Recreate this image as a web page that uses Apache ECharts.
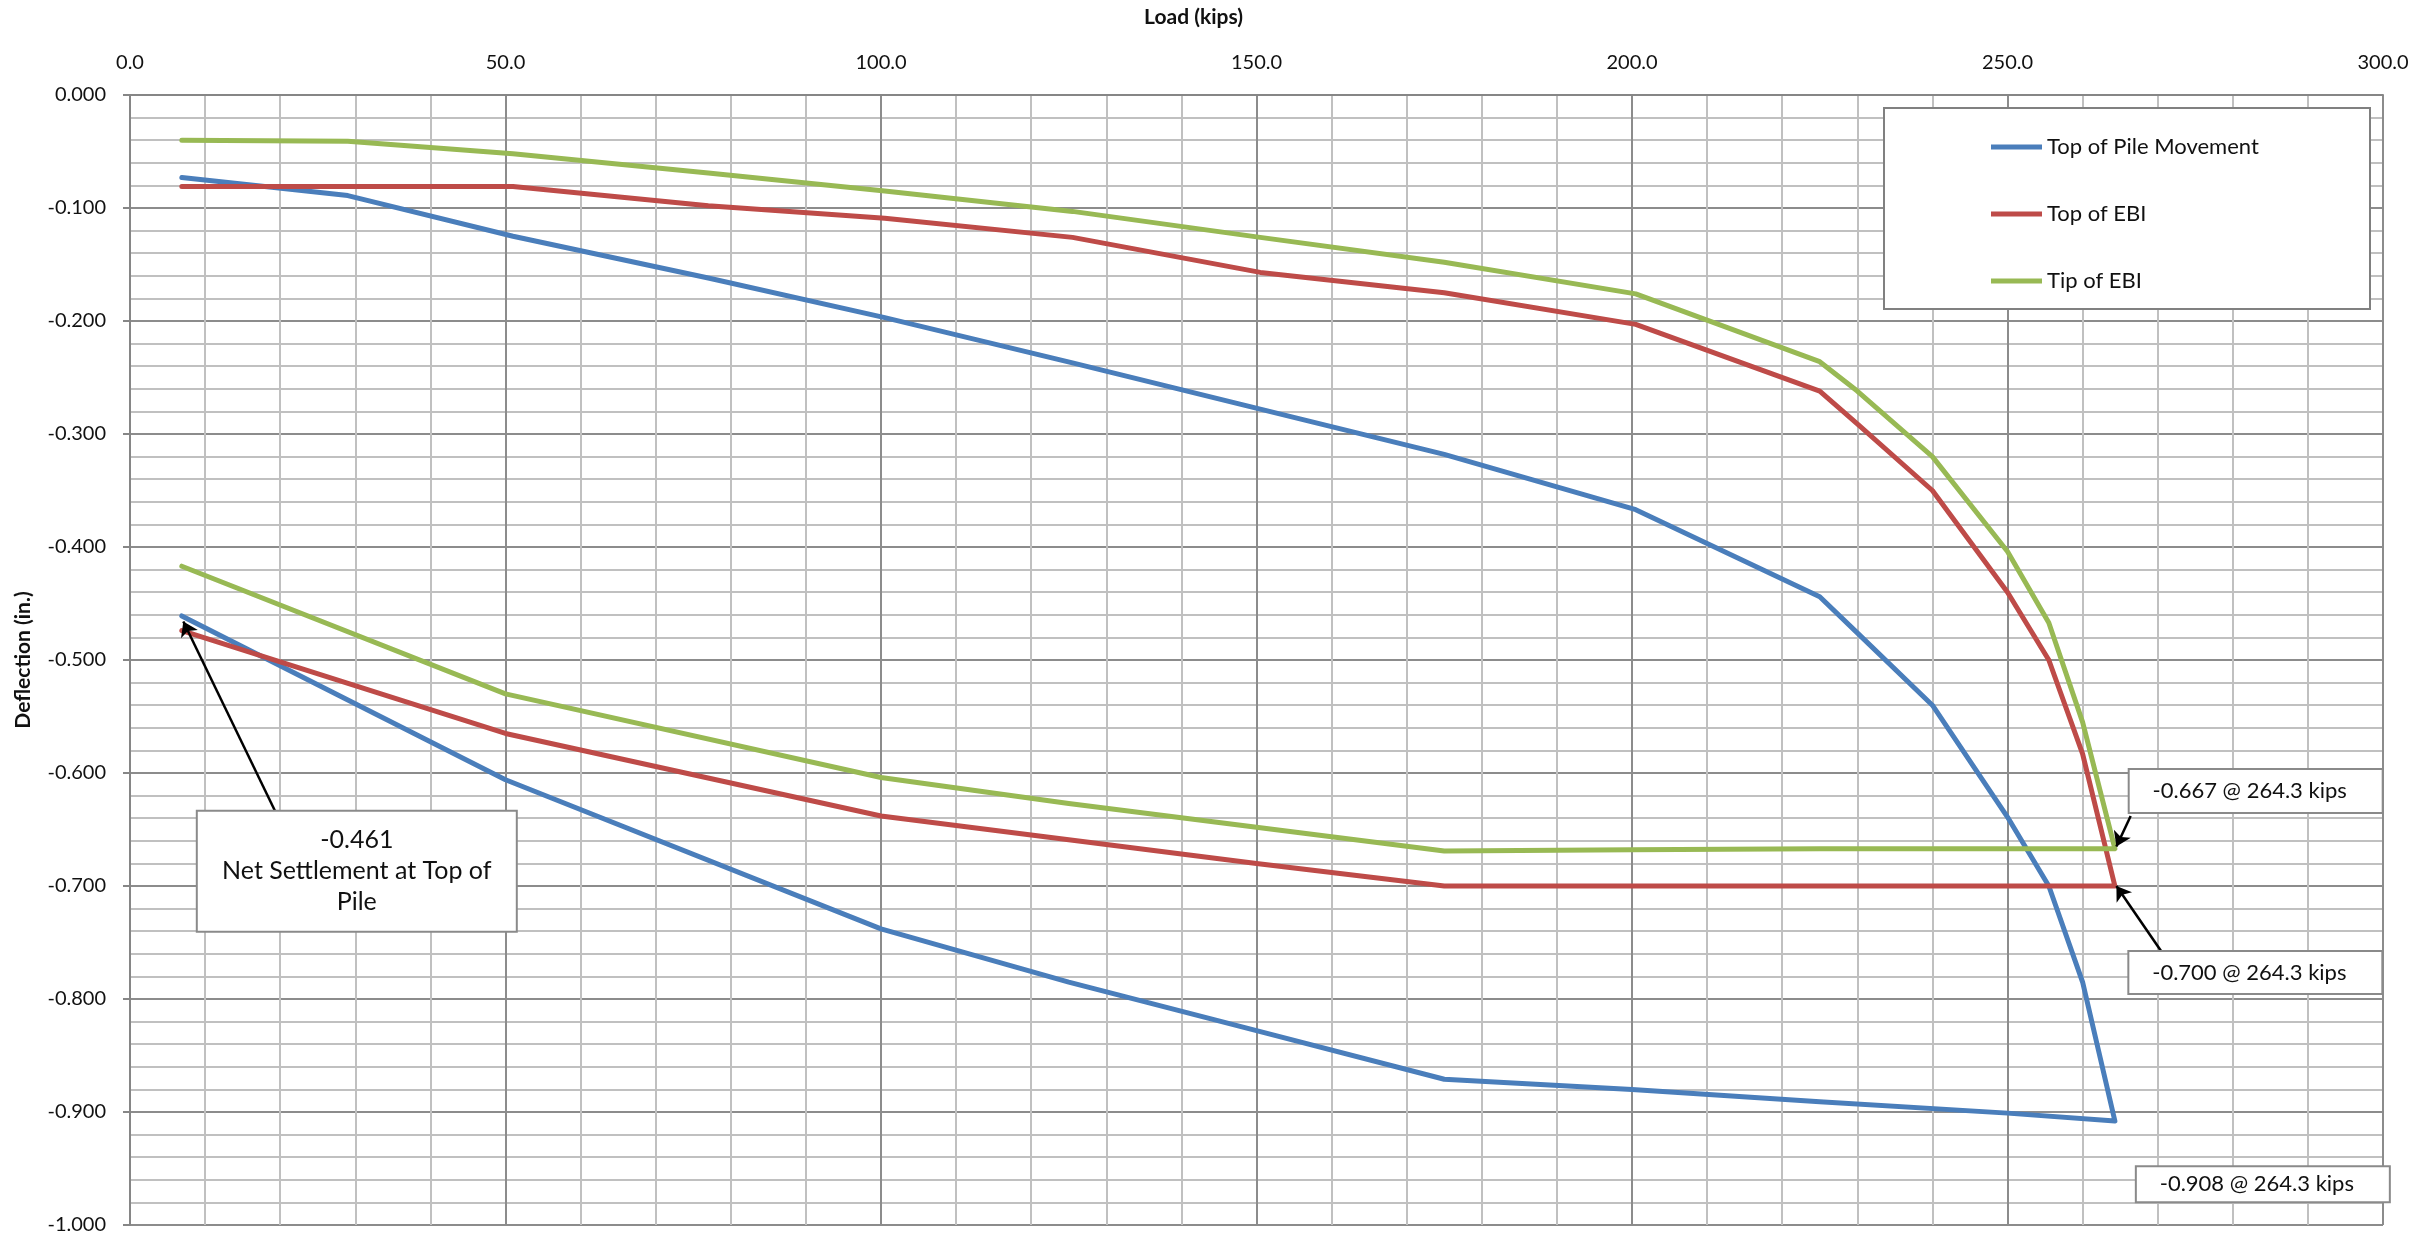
<!DOCTYPE html>
<html>
<head>
<meta charset="utf-8">
<title>Load vs Deflection</title>
<script src="https://cdn.jsdelivr.net/npm/echarts@6/dist/echarts.min.js"></script>
<style>
  html, body { margin: 0; padding: 0; background: #ffffff; }
  #chart { width: 2435px; height: 1239px; }
</style>
</head>
<body>
<div id="chart"></div>
<script>
// Load steps (kips): loading up to the peak, then unloading back down
const loadKips = [6.9, 29.0, 51.0, 77.0, 100.5, 125.5, 150.5, 175.0, 200.5, 225.0, 230.0, 240.0,
                  250.0, 255.5, 260.0, 264.3, 250.0, 225.0, 200.0, 175.0, 150.0, 125.0, 100.0, 50.0, 6.9];

// Deflections (in.) at each load step
const topOfPileMovement = [-0.073, -0.089, -0.125, -0.162, -0.197, -0.237, -0.278, -0.318, -0.367, -0.444, -0.476, -0.540,
                           -0.639, -0.700, -0.785, -0.908, -0.901, -0.891, -0.880, -0.871, -0.828, -0.785, -0.738, -0.606, -0.461];
const topOfEBI = [-0.081, -0.081, -0.081, -0.098, -0.109, -0.126, -0.157, -0.175, -0.203, -0.262, -0.291, -0.350,
                  -0.440, -0.500, -0.583, -0.700, -0.700, -0.700, -0.700, -0.700, -0.680, -0.659, -0.638, -0.565, -0.474];
const tipOfEBI = [-0.040, -0.041, -0.052, -0.069, -0.085, -0.103, -0.126, -0.148, -0.176, -0.236, -0.262, -0.320,
                  -0.404, -0.467, -0.555, -0.667, -0.667, -0.667, -0.668, -0.669, -0.648, -0.627, -0.604, -0.530, -0.417];

const seriesNames = ['Top of Pile Movement', 'Top of EBI', 'Tip of EBI'];
const seriesColors = ['#4A7EBB', '#BE4B48', '#98B954'];

// Axis ranges / tick spacing
const loadAxis = { min: 0, max: 300, interval: 50 };
const deflAxis = { min: -1, max: 0, interval: 0.1 };

const FONT = 'Lato, "Open Sans", "Noto Sans", sans-serif';

const pairs = ys => loadKips.map((x, i) => [x, ys[i]]);
const peakIdx = loadKips.indexOf(Math.max(...loadKips));
const lastIdx = loadKips.length - 1;
const peakLoad = loadKips[peakIdx];
const f3 = v => v.toFixed(3);
const atPeak = v => f3(v) + ' @ ' + peakLoad.toFixed(1) + ' kips';

// Text boxes anchored in data units; the box itself is the label background
function callout(coord, width, padding, text, fontSize, lineHeight) {
  return {
    coord: coord, symbol: 'circle', symbolSize: 1,
    itemStyle: { color: 'rgba(0,0,0,0)' },
    label: {
      show: true, position: 'inside', formatter: text,
      color: '#111', fontFamily: FONT, fontSize: fontSize, lineHeight: lineHeight,
      width: width, padding: padding, align: 'center', verticalAlign: 'middle',
      backgroundColor: '#ffffff', borderColor: '#8a8a8a', borderWidth: 2
    }
  };
}

function arrow(from, to) {
  return [{ coord: from }, { coord: to }];
}

const arrowLine = {
  silent: true, animation: false,
  symbol: ['none', 'arrow'], symbolSize: 14,
  lineStyle: { color: '#000', width: 2.5, type: 'solid' },
  label: { show: false }, emphasis: { disabled: true }
};

function lineSeries(name, ys, color, extra) {
  return Object.assign({
    name: name, type: 'line', data: pairs(ys),
    showSymbol: false, symbol: 'none', animation: false,
    lineStyle: { color: color, width: 5, cap: 'round', join: 'round' },
    itemStyle: { color: color },
    z: 2
  }, extra || {});
}

const chart = echarts.init(document.getElementById('chart'), null, { renderer: 'canvas' });

chart.setOption({
  backgroundColor: '#ffffff',
  animation: false,
  grid: { left: 130, right: 52, top: 95, bottom: 14, containLabel: false },
  xAxis: {
    type: 'value', position: 'top',
    min: loadAxis.min, max: loadAxis.max, interval: loadAxis.interval,
    name: 'Load (kips)', nameLocation: 'middle', nameGap: 67,
    nameTextStyle: { fontFamily: FONT, fontSize: 21, fontWeight: 'bold', color: '#111', padding: [0, 126, 0, 0] },
    axisLine: { show: true, lineStyle: { color: '#868686', width: 2 } },
    axisTick: { show: false },
    axisLabel: { margin: 22, fontFamily: FONT, fontSize: 20, color: '#111', formatter: v => v.toFixed(1) },
    splitLine: { show: true, lineStyle: { color: '#8c8c8c', width: 2 } },
    minorTick: { show: false, splitNumber: 5 },
    minorSplitLine: { show: true, lineStyle: { color: '#c0c0c0', width: 2 } }
  },
  yAxis: {
    type: 'value',
    min: deflAxis.min, max: deflAxis.max, interval: deflAxis.interval,
    name: 'Deflection (in.)', nameLocation: 'middle', nameGap: 96,
    nameTextStyle: { fontFamily: FONT, fontSize: 21, fontWeight: 'bold', color: '#111' },
    axisLine: { show: true, onZero: false, lineStyle: { color: '#868686', width: 2 } },
    axisTick: { show: true, inside: false, length: 7, lineStyle: { color: '#868686', width: 2 } },
    axisLabel: { margin: 24, fontFamily: FONT, fontSize: 20, color: '#111', formatter: v => f3(v) },
    splitLine: { show: true, lineStyle: { color: '#8c8c8c', width: 2 } },
    minorTick: { show: false, splitNumber: 5 },
    minorSplitLine: { show: true, lineStyle: { color: '#c0c0c0', width: 2 } }
  },
  legend: {
    orient: 'vertical', left: 1986, top: 130,
    itemWidth: 51, itemHeight: 5, itemGap: 43, icon: 'rect',
    textStyle: { fontFamily: FONT, fontSize: 22, color: '#111', lineHeight: 24 },
    data: seriesNames, selectedMode: false, z: 6
  },
  graphic: [
    {
      type: 'rect', left: 1883, top: 107, z: 5,
      shape: { width: 486, height: 201 },
      style: { fill: '#ffffff', stroke: '#808080', lineWidth: 2 }
    }
  ],
  series: [
    lineSeries(seriesNames[0], topOfPileMovement, seriesColors[0], {
      markPoint: {
        silent: true, animation: false, z: 7,
        data: [
          callout([30.2, -0.687], 318, [13, 0, 13, 0],
                  f3(topOfPileMovement[lastIdx]) + '\nNet Settlement at Top of\nPile', 25, 31),
          callout([284.0, -0.964], 240, [12, 12, 0, 0], atPeak(topOfPileMovement[peakIdx]), 22, 22)
        ]
      },
      markLine: Object.assign({}, arrowLine, {
        data: [arrow([19.7, -0.639], [loadKips[lastIdx] + 0.2, topOfPileMovement[lastIdx] - 0.005])]
      })
    }),
    lineSeries(seriesNames[1], topOfEBI, seriesColors[1], {
      markPoint: {
        silent: true, animation: false, z: 7,
        data: [callout([283.0, -0.7765], 240, [11, 12, 8, 0], atPeak(topOfEBI[peakIdx]), 22, 22)]
      },
      markLine: Object.assign({}, arrowLine, {
        data: [arrow([270.7, -0.760], [peakLoad + 0.2, topOfEBI[peakIdx]])]
      })
    }),
    lineSeries(seriesNames[2], tipOfEBI, seriesColors[2], {
      markPoint: {
        silent: true, animation: false, z: 7,
        data: [callout([283.05, -0.616], 240, [10, 12, 10, 0], atPeak(tipOfEBI[peakIdx]), 22, 22)]
      },
      markLine: Object.assign({}, arrowLine, {
        data: [arrow([266.4, -0.638], [peakLoad + 0.2, tipOfEBI[peakIdx] + 0.002])]
      })
    })
  ]
});
</script>
</body>
</html>
